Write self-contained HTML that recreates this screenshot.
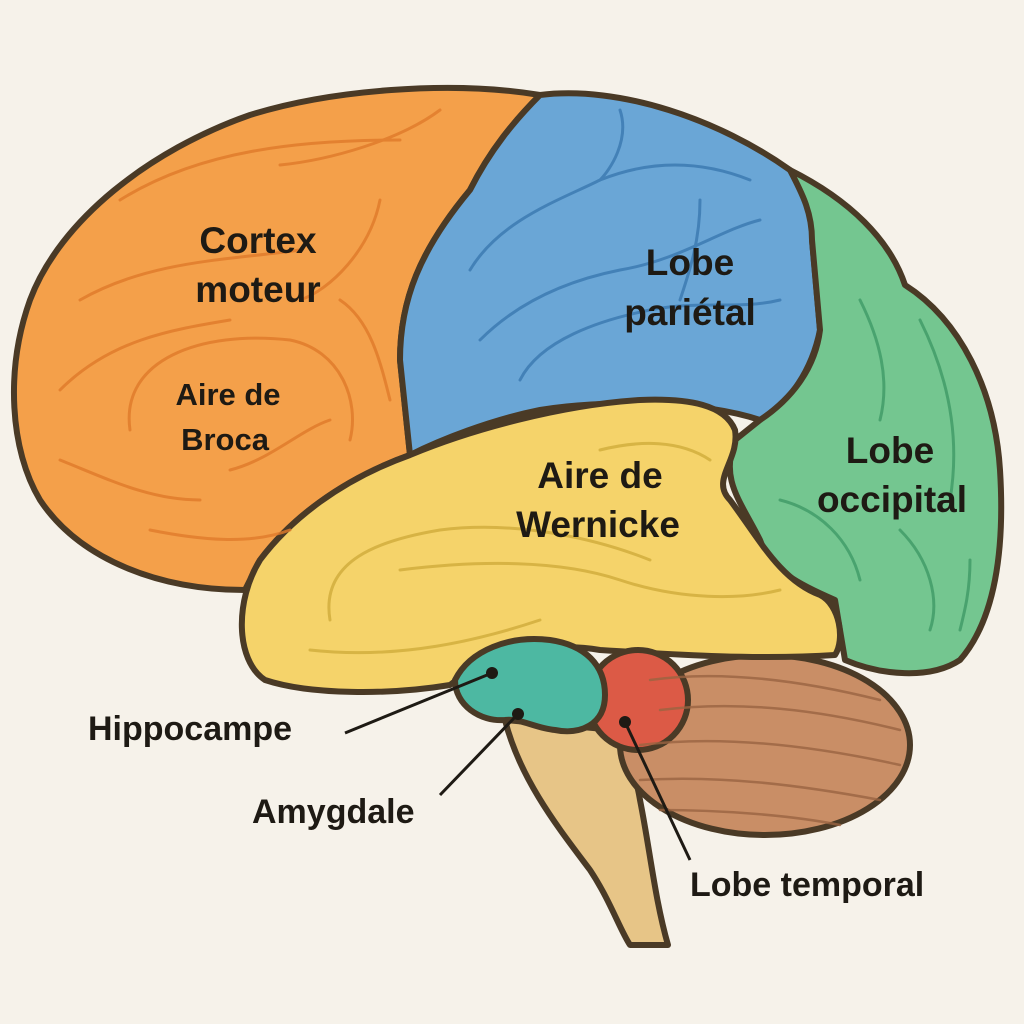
<!DOCTYPE html>
<html><head><meta charset="utf-8"><style>
html,body{margin:0;padding:0;background:#f6f2ea;}
svg{display:block}
text{font-family:"Liberation Sans",sans-serif;fill:#1e1a14;font-weight:bold;}
</style></head><body>
<svg width="1024" height="1024" viewBox="0 0 1024 1024" xmlns="http://www.w3.org/2000/svg">
<rect width="1024" height="1024" fill="#f6f2ea"/>
<g stroke="#4a3a26" stroke-width="6" stroke-linejoin="round">
<path d="M505,720 C520,780 560,830 590,870 C610,900 620,930 630,945 L668,945 C655,900 650,850 640,800 C635,770 625,745 615,730 Z" fill="#e7c587"/>
<ellipse cx="765" cy="745" rx="145" ry="90" fill="#c98e66"/>
<path d="M540,95 C450,80 330,90 250,115 C150,150 60,220 30,300 C5,370 10,450 40,500 C80,560 160,590 245,590 L260,560 C290,520 340,480 410,455 L400,360 C400,300 420,250 470,190 C490,150 515,120 540,95 Z" fill="#f4a04a"/>
<path d="M540,95 C620,85 720,120 790,170 C810,190 815,215 812,240 L820,330 C810,380 780,410 760,420 C700,400 600,400 540,410 C490,420 440,440 410,455 L400,360 C400,300 420,250 470,190 C490,150 515,120 540,95 Z" fill="#6aa6d6"/>
<path d="M790,170 C850,200 890,240 905,285 C960,320 995,390 1000,470 C1005,550 995,620 960,660 C930,680 880,675 845,660 L835,600 C800,585 770,570 760,540 C740,500 720,480 735,440 L760,420 C790,400 815,370 820,330 L812,240 C812,210 800,190 790,170 Z" fill="#74c690"/>
<path d="M410,455 C470,430 560,405 640,400 C690,398 725,405 735,430 C740,460 710,480 730,500 C760,540 780,580 820,595 C840,605 845,640 835,655 C760,660 680,655 600,650 C540,640 480,660 450,685 C390,695 310,695 265,680 C235,660 235,600 260,560 C290,520 340,480 410,455 Z" fill="#f5d36a"/>
<circle cx="638" cy="700" r="50" fill="#dc5a46"/>
<path d="M455,680 C470,650 510,635 550,640 C585,645 605,665 605,695 C605,725 580,735 555,730 C535,728 520,718 505,720 C480,722 455,705 455,680 Z" fill="#4db8a2"/>
</g>
<g fill="none" stroke-width="3" stroke-linecap="round">
<g stroke="#e07a2a" opacity="0.8">
<path d="M120,200 C200,150 300,140 400,140"/><path d="M80,300 C150,260 230,260 300,250"/>
<path d="M60,390 C110,340 170,330 230,320"/><path d="M130,430 C120,360 200,330 290,340 C340,350 360,400 350,440"/>
<path d="M60,460 C110,480 150,500 200,500"/><path d="M230,470 C270,460 300,430 330,420"/>
<path d="M380,200 C370,250 330,290 300,300"/><path d="M440,110 C400,140 330,160 280,165"/>
<path d="M150,530 C200,540 250,545 290,530"/><path d="M340,300 C370,320 380,360 390,400"/>
</g>
<g stroke="#3a78b0" opacity="0.8">
<path d="M470,270 C500,220 560,200 600,180 C650,160 700,160 750,180"/>
<path d="M480,340 C520,300 570,280 620,270 C680,260 720,230 760,220"/>
<path d="M520,380 C540,340 600,320 650,310 C700,300 740,310 780,300"/>
<path d="M620,110 C630,140 610,170 600,180"/><path d="M700,200 C700,240 690,270 680,300"/>
</g>
<g stroke="#3f9a66" opacity="0.8">
<path d="M860,300 C880,340 890,380 880,420"/><path d="M920,320 C950,380 960,440 950,500"/>
<path d="M780,500 C820,510 850,540 860,580"/><path d="M900,530 C930,560 940,600 930,630"/>
<path d="M970,560 C970,590 965,610 960,630"/>
</g>
<g stroke="#d4b040" opacity="0.9">
<path d="M330,620 C320,560 380,540 440,530 C520,520 600,540 650,560"/>
<path d="M400,570 C480,560 560,560 620,580 C680,600 740,600 780,590"/>
<path d="M310,650 C400,660 480,640 540,620"/><path d="M600,450 C640,440 680,440 710,460"/>
</g>
<g stroke="#9a6442" opacity="0.8" stroke-width="2.5">
<path d="M650,680 C720,670 800,680 880,700"/><path d="M660,710 C740,700 820,710 900,730"/>
<path d="M640,745 C720,735 810,745 900,765"/><path d="M640,780 C720,775 800,785 880,800"/>
<path d="M660,810 C720,810 790,815 840,825"/>
</g>
</g>
<g stroke="#1e1a14" stroke-width="3">
<line x1="345" y1="733" x2="492" y2="673"/>
<line x1="440" y1="795" x2="518" y2="714"/>
<line x1="690" y1="860" x2="625" y2="722"/>
</g>
<g fill="#1e1a14"><circle cx="492" cy="673" r="6"/><circle cx="518" cy="714" r="6"/><circle cx="625" cy="722" r="6"/></g>
<g font-size="37" text-anchor="middle">
<text x="258" y="253">Cortex</text><text x="258" y="302">moteur</text>
<text x="690" y="275">Lobe</text><text x="690" y="325">pariétal</text>
<text x="890" y="463">Lobe</text><text x="892" y="512">occipital</text>
<text x="600" y="488">Aire de</text><text x="598" y="537">Wernicke</text>
</g>
<g font-size="31" text-anchor="middle">
<text x="228" y="405">Aire de</text><text x="225" y="450">Broca</text>
</g>
<g font-size="34">
<text x="88" y="740">Hippocampe</text>
<text x="252" y="823">Amygdale</text>
<text x="690" y="896">Lobe temporal</text>
</g>
</svg>
</body></html>
